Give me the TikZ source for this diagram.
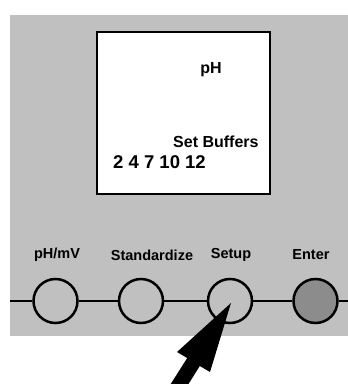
\documentclass[tikz,border=0pt]{standalone}
\usepackage{fontspec}
\setmainfont{Liberation Sans}
\usetikzlibrary{positioning}
\definecolor{panelcolor}{RGB}{192, 192, 192}
\definecolor{entercolor}{RGB}{140, 140, 140}

\begin{document}
\begin{tikzpicture}[
    x=1pt, y=-1pt,
    screentext/.style={
        font=\fontsize{16}{18}\selectfont\bfseries,
        inner sep=0pt
    },
    keylabel/.style={
        font=\fontsize{14.5}{16}\selectfont\bfseries,
        inner sep=0pt
    },
    key/.style={
        draw=black,
        line width=2.5pt,
        circle,
        fill=panelcolor,
        minimum size=44pt,
        inner sep=0pt
    },
    wire/.style={
        line width=2pt
    },
    pointer/.style={
        fill=black
    }
]

\clip (0, 0) rectangle (348, 384);
\useasboundingbox (0, 0) rectangle (348, 384);

% Panel and display
\fill[panelcolor] (10, 15) rectangle (348, 336);
\draw[line width=2pt, fill=white] (97, 32) rectangle (270, 194);

\node[screentext] (mode) at (211, 70) {pH};
\node[screentext, anchor=west] (title) at (173, 142) {Set Buffers};
\node[screentext, anchor=west, font=\fontsize{18.5}{20}\selectfont\bfseries] (buffers) at (113, 162) {2 4 7 10 12};

% Keys
\node[key] (phmv) at (55.5, 301) {};
\node[key] (stdz) at (141, 301) {};
\node[key] (setup) at (230, 301) {};
\node[key, fill=entercolor] (enter) at (315.5, 301) {};

\coordinate (wireleft) at (10, 301);
\coordinate (wireright) at (348, 301);

\draw[wire] (wireleft) -- (phmv) -- (stdz) -- (setup) -- (enter) -- (wireright);

% Key labels
\node[keylabel] (phmvlabel) at (57, 255) {pH/mV};
\node[keylabel] (stdzlabel) at (152, 255) {Standardize};
\node[keylabel] (setuplabel) at (231, 255) {Setup};
\node[keylabel] (enterlabel) at (311, 255) {Enter};

% Pointer
\fill[pointer] (231, 303) -- (210, 372) -- (199.8, 366) -- (178.4, 400)
    -- (165.8, 391.8) -- (187.2, 358) -- (177, 352) -- cycle;

\end{tikzpicture}
\end{document}
